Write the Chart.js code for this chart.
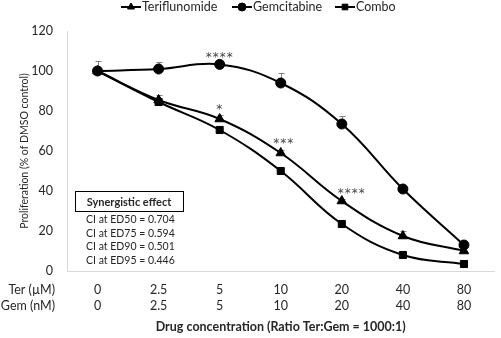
<!DOCTYPE html>
<html>
<head>
<meta charset="utf-8">
<script src="https://cdn.jsdelivr.net/npm/chart.js@4"></script>
<style>
  html, body { margin: 0; padding: 0; background: #fff; }
  #wrap { width: 501px; height: 338px; }
</style>
</head>
<body>
<div id="wrap"><canvas id="myChart" width="501" height="338"></canvas></div>
<script>
// chart data
const terConc = ['0', '2.5', '5', '10', '20', '40', '80'];
const gemConc = ['0', '2.5', '5', '10', '20', '40', '80'];
const teriflunomide = [100, 85.5, 76, 59, 35, 17.5, 10];
const gemcitabine = [100, 101, 103.3, 94, 73.5, 41, 13];
const combo = [100, 84.5, 70.5, 50, 23.5, 8, 3.5];
const terErr = [0, 2.5, 2, 1.5, 1, 2.5, 1.5];
const gemErr = [5, 3.5, 0, 5, 4, 1, 2];
const comboErr = [0, 0, 0, 0, 0, 0, 0];
const yTicks = [0, 20, 40, 60, 80, 100, 120];
const ciLevels = ['ED50', 'ED75', 'ED90', 'ED95'];
const ciValues = ['0.704', '0.594', '0.501', '0.446'];
// significance marks: dataset, point, text
const sigMarks = [
    { ds: 1, i: 2, text: '****', dx: 0, dy: -9 },
    { ds: 0, i: 2, text: '*', dx: 0, dy: -11 },
    { ds: 0, i: 3, text: '***', dx: 3, dy: -11 },
    { ds: 0, i: 4, text: '****', dx: 10, dy: -9 }
];

const FONT = 'Lato, sans-serif';
const TXT = '#262626';

const extras = {
    id: 'extras',
    beforeDatasetsDraw(chart) {
        const ctx = chart.ctx;
        const x = chart.scales.x, y = chart.scales.y;
        const errs = [terErr, gemErr, comboErr];
        ctx.save();
        // error bars (upper only), drawn under the markers
        ctx.strokeStyle = '#7f7f7f';
        ctx.lineWidth = 1;
        chart.data.datasets.forEach((ds, d) => {
            ds.data.forEach((v, i) => {
                const e = errs[d][i];
                if (!e) return;
                const px = Math.round(x.getPixelForValue(i)) + 0.5;
                const top = Math.round(y.getPixelForValue(v + e)) + 0.5;
                const base = y.getPixelForValue(v);
                ctx.beginPath();
                ctx.moveTo(px, base);
                ctx.lineTo(px, top);
                ctx.moveTo(px - 3, top);
                ctx.lineTo(px + 3, top);
                ctx.stroke();
            });
        });
        ctx.restore();
    },
    afterDatasetsDraw(chart) {
        const ctx = chart.ctx;
        const x = chart.scales.x, y = chart.scales.y;
        ctx.save();
        // asterisks
        ctx.fillStyle = '#404040';
        ctx.font = '12px "DejaVu Sans", sans-serif';
        ctx.letterSpacing = '1px';
        ctx.textAlign = 'center';
        ctx.textBaseline = 'middle';
        sigMarks.forEach(m => {
            const v = chart.data.datasets[m.ds].data[m.i];
            ctx.fillText(m.text, x.getPixelForValue(m.i) + m.dx, y.getPixelForValue(v) + m.dy + 2);
        });
        ctx.restore();
    },
    afterDraw(chart) {
        const ctx = chart.ctx;
        ctx.save();
        // legend
        const items = [
            { label: 'Teriflunomide', style: 'triangle', x: 121 },
            { label: 'Gemcitabine', style: 'circle', x: 232 },
            { label: 'Combo', style: 'rect', x: 335 }
        ];
        ctx.font = '12.5px ' + FONT;
        ctx.textBaseline = 'middle';
        ctx.textAlign = 'left';
        items.forEach(it => {
            const ly = 7;
            ctx.strokeStyle = '#000';
            ctx.fillStyle = '#000';
            ctx.lineWidth = 2;
            ctx.beginPath();
            ctx.moveTo(it.x, ly);
            ctx.lineTo(it.x + 20, ly);
            ctx.stroke();
            ctx.lineWidth = 1;
            Chart.helpers.drawPoint(ctx, { pointStyle: it.style, radius: 4, borderWidth: 1 }, it.x + 10, ly);
            ctx.fillStyle = TXT;
            ctx.fillText(it.label, it.x + 21, ly);
        });
        // row labels under x axis
        ctx.textAlign = 'right';
        ctx.fillText('Ter (\u00b5M)', 55, 290);
        ctx.fillText('Gem (nM)', 55, 306);
        // synergy box
        ctx.strokeStyle = '#000';
        ctx.lineWidth = 1;
        ctx.strokeRect(75.5, 191.5, 108, 20);
        ctx.textAlign = 'center';
        ctx.font = 'bold 11px ' + FONT;
        ctx.fillText('Synergistic effect', 129, 202);
        ctx.textAlign = 'left';
        ctx.font = '10.5px ' + FONT;
        ciLevels.forEach((lv, i) => {
            ctx.fillText('CI at ' + lv + ' = ' + ciValues[i], 86, 220 + i * 13.5);
        });
        ctx.restore();
    }
};

const common = { borderColor: '#000', backgroundColor: '#000', pointBorderColor: '#000', pointBackgroundColor: '#000', borderWidth: 2, tension: 0.4, pointRadius: 5, pointHoverRadius: 5, pointBorderWidth: 1, fill: false };

new Chart(document.getElementById('myChart').getContext('2d'), {
    type: 'line',
    data: {
        labels: terConc,
        datasets: [
            Object.assign({ label: 'Teriflunomide', data: teriflunomide, pointStyle: 'triangle' }, common, { pointRadius: 5.5 }),
            Object.assign({ label: 'Gemcitabine', data: gemcitabine, pointStyle: 'circle' }, common),
            Object.assign({ label: 'Combo', data: combo, pointStyle: 'rect' }, common)
        ]
    },
    options: {
        responsive: false,
        animation: false,
        layout: { padding: { top: 31, right: 2, left: 0, bottom: 0 } },
        plugins: { legend: { display: false }, tooltip: { enabled: false } },
        scales: {
            x: {
                offset: true,
                grid: { display: false, drawTicks: false },
                border: { color: '#d9d9d9' },
                ticks: {
                    color: TXT, font: { family: FONT, size: 12.5, lineHeight: 1.3 }, padding: 11,
                    maxRotation: 0, autoSkip: false,
                    callback: (v, i) => [terConc[i], gemConc[i]]
                },
                title: { display: true, text: 'Drug concentration (Ratio Ter:Gem = 1000:1)', color: TXT, font: { family: FONT, size: 12.5, weight: 'bold' }, padding: { top: 12 } },
                afterFit: s => { s.height = 67; }
            },
            y: {
                min: 0, max: 120,
                afterBuildTicks: s => { s.ticks = yTicks.map(v => ({ value: v })); },
                grid: { display: false, drawTicks: false },
                border: { color: '#d9d9d9' },
                ticks: { color: TXT, font: { family: FONT, size: 12.5 }, padding: 14 },
                title: { display: true, text: 'Proliferation (% of DMSO control)', color: TXT, font: { family: FONT, size: 10.5 }, padding: { top: 18, bottom: 0 } },
                afterFit: s => { s.width = 67; }
            }
        }
    },
    plugins: [extras]
});
</script>
</body>
</html>
